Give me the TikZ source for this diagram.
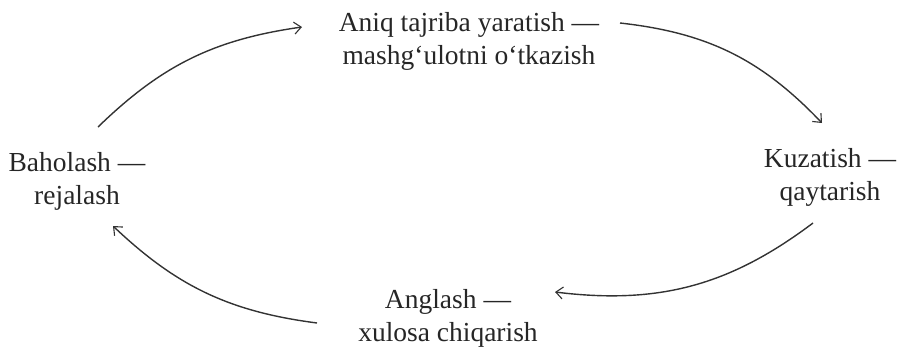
\documentclass[tikz,border=0pt]{standalone}
\usepackage{fontspec}
\setmainfont{Liberation Serif}
\usetikzlibrary{arrows.meta}
\begin{document}
\begin{tikzpicture}[x=1pt,y=-1pt,
  lbl/.style={align=center,inner sep=0pt,font=\fontsize{27.5}{33}\selectfont,text=black!85},
  cyc/.style={draw=black!80,line width=1.4pt,-{Straight Barb[length=7pt,width=12pt,line width=1.1pt]}}]
\useasboundingbox (0,0) rectangle (897,346);
\node[lbl] (top) at (469,41) {Aniq tajriba yaratish ---\\mashg`ulotni o`tkazish};
\node[lbl] (right) at (830,177) {Kuzatish ---\\qaytarish};
\node[lbl] (bottom) at (448,318) {Anglash ---\\xulosa chiqarish};
\node[lbl] (left) at (77,181) {Baholash ---\\rejalash};
\coordinate (s1) at (98,127);  \coordinate (e1) at (302,27);
\coordinate (s2) at (620,23);  \coordinate (e2) at (822,123);
\coordinate (s3) at (813,223); \coordinate (e3) at (555,292);
\coordinate (s4) at (317,323); \coordinate (e4) at (113,226);
\draw[cyc] (s1) to[bend left=18] (e1);
\draw[cyc] (s2) to[bend left=20] (e2);
\draw[cyc] (s3) to[bend left=22] (e3);
\draw[cyc] (s4) to[bend left=18] (e4);
\end{tikzpicture}
\end{document}
